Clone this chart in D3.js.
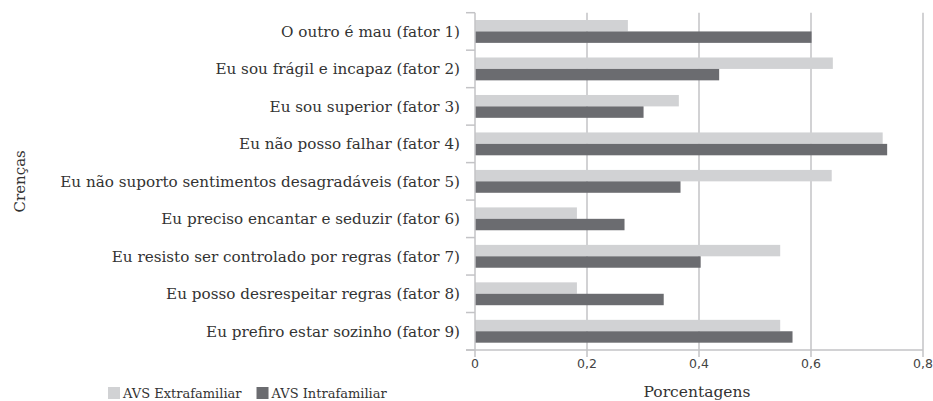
<!DOCTYPE html>
<html>
<head>
<meta charset="utf-8">
<script src="https://cdn.jsdelivr.net/npm/d3@7"></script>
<style>
  body { margin: 0; background: #fff; }
  .cat-label { font-family: "DejaVu Serif", serif; font-size: 15.2px; fill: #333; }
  .tick-label { font-family: "DejaVu Sans", sans-serif; font-size: 12.5px; fill: #444; }
</style>
</head>
<body>
<svg id="chart"></svg>
<script>
const width = 933;
const height = 401;

const categories = [
  "O outro é mau (fator 1)",
  "Eu sou frágil e incapaz (fator 2)",
  "Eu sou superior (fator 3)",
  "Eu não posso falhar (fator 4)",
  "Eu não suporto sentimentos desagradáveis (fator 5)",
  "Eu preciso encantar e seduzir (fator 6)",
  "Eu resisto ser controlado por regras (fator 7)",
  "Eu posso desrespeitar regras (fator 8)",
  "Eu prefiro estar sozinho (fator 9)",
];
const seriesNames = ["AVS Extrafamiliar", "AVS Intrafamiliar"];
const extrafamiliar = [0.273, 0.639, 0.364, 0.728, 0.637, 0.182, 0.545, 0.182, 0.545];
const intrafamiliar = [0.601, 0.436, 0.301, 0.736, 0.367, 0.267, 0.403, 0.337, 0.567];
const xTicks = [0, 0.2, 0.4, 0.6, 0.8];

const colors = { "AVS Extrafamiliar": "#d1d2d4", "AVS Intrafamiliar": "#6b6c70" };
const gridColor = "#c3c3c6";

const rows = categories.map((c, i) => ({
  cat: c,
  values: [
    { key: seriesNames[0], value: extrafamiliar[i] },
    { key: seriesNames[1], value: intrafamiliar[i] },
  ],
}));

const margin = { top: 12.7, right: 10, bottom: 51, left: 475 };
const innerW = 923 - margin.left;
const innerH = height - margin.top - margin.bottom;

const svg = d3.select("#chart").attr("width", width).attr("height", height);
const g = svg.append("g").attr("transform", `translate(${margin.left},${margin.top})`);

const x = d3.scaleLinear().domain([0, 0.8]).range([0, innerW]);
const y = d3.scaleBand().domain(categories).range([0, innerH]).paddingInner(0.39).paddingOuter(0.195);
const y1 = d3.scaleBand().domain(seriesNames).range([0, y.bandwidth()]);

const fmt = (d) => d3.format(".1f")(d).replace(".", ",").replace(/^0,0$/, "0");

// gridlines
g.selectAll(".grid")
  .data(xTicks.filter((d) => d > 0))
  .enter()
  .append("line")
  .attr("x1", (d) => x(d))
  .attr("x2", (d) => x(d))
  .attr("y1", 0)
  .attr("y2", innerH + 7)
  .attr("stroke", gridColor)
  .attr("stroke-width", 1.5);

// bars
const groups = g.selectAll(".cat")
  .data(rows)
  .enter()
  .append("g")
  .attr("transform", (d) => `translate(0,${y(d.cat)})`);

groups.selectAll("rect")
  .data((d) => d.values)
  .enter()
  .append("rect")
  .attr("x", 0)
  .attr("y", (d) => y1(d.key))
  .attr("width", (d) => x(d.value))
  .attr("height", y1.bandwidth())
  .attr("fill", (d) => colors[d.key]);

// y axis line and ticks at category boundaries
const step = y.step();
g.append("line")
  .attr("x1", 0).attr("x2", 0)
  .attr("y1", 0).attr("y2", innerH + 7)
  .attr("stroke", gridColor).attr("stroke-width", 1.5);
g.selectAll(".ytick")
  .data(d3.range(categories.length + 1))
  .enter()
  .append("line")
  .attr("x1", -9).attr("x2", 0)
  .attr("y1", (d) => d * step)
  .attr("y2", (d) => d * step)
  .attr("stroke", gridColor).attr("stroke-width", 1.5);

// x axis line
g.append("line")
  .attr("x1", -9).attr("x2", innerW)
  .attr("y1", innerH).attr("y2", innerH)
  .attr("stroke", gridColor).attr("stroke-width", 1.5);

// category labels
g.selectAll(".cat-label")
  .data(categories)
  .enter()
  .append("text")
  .attr("class", "cat-label")
  .attr("x", -15)
  .attr("y", (d) => y(d) + y.bandwidth() / 2)
  .attr("dy", "0.35em")
  .attr("text-anchor", "end")
  .text((d) => d);

// x tick labels
g.selectAll(".tick-label")
  .data(xTicks)
  .enter()
  .append("text")
  .attr("class", "tick-label")
  .attr("x", (d) => x(d))
  .attr("y", innerH + 18)
  .attr("text-anchor", "middle")
  .text(fmt);

// axis titles
svg.append("text")
  .attr("transform", `translate(25,${margin.top + innerH / 2}) rotate(-90)`)
  .attr("text-anchor", "middle")
  .style("font-family", "DejaVu Serif, serif")
  .style("font-size", "15px")
  .style("fill", "#333")
  .text("Crenças");

svg.append("text")
  .attr("x", 697)
  .attr("y", 397)
  .attr("text-anchor", "middle")
  .style("font-family", "DejaVu Serif, serif")
  .style("font-size", "15.5px")
  .style("fill", "#333")
  .text("Porcentagens");

// legend
const legend = svg.append("g").attr("transform", "translate(108,387)");
let lx = 0;
seriesNames.forEach((name) => {
  const item = legend.append("g").attr("transform", `translate(${lx},0)`);
  item.append("rect").attr("width", 12).attr("height", 12).attr("fill", colors[name]);
  const t = item.append("text")
    .attr("x", 15).attr("y", 10.5)
    .style("font-family", "DejaVu Serif, serif")
    .style("font-size", "13px")
    .style("fill", "#333")
    .text(name);
  lx += 15 + t.node().getComputedTextLength() + 15;
});
</script>
</body>
</html>
